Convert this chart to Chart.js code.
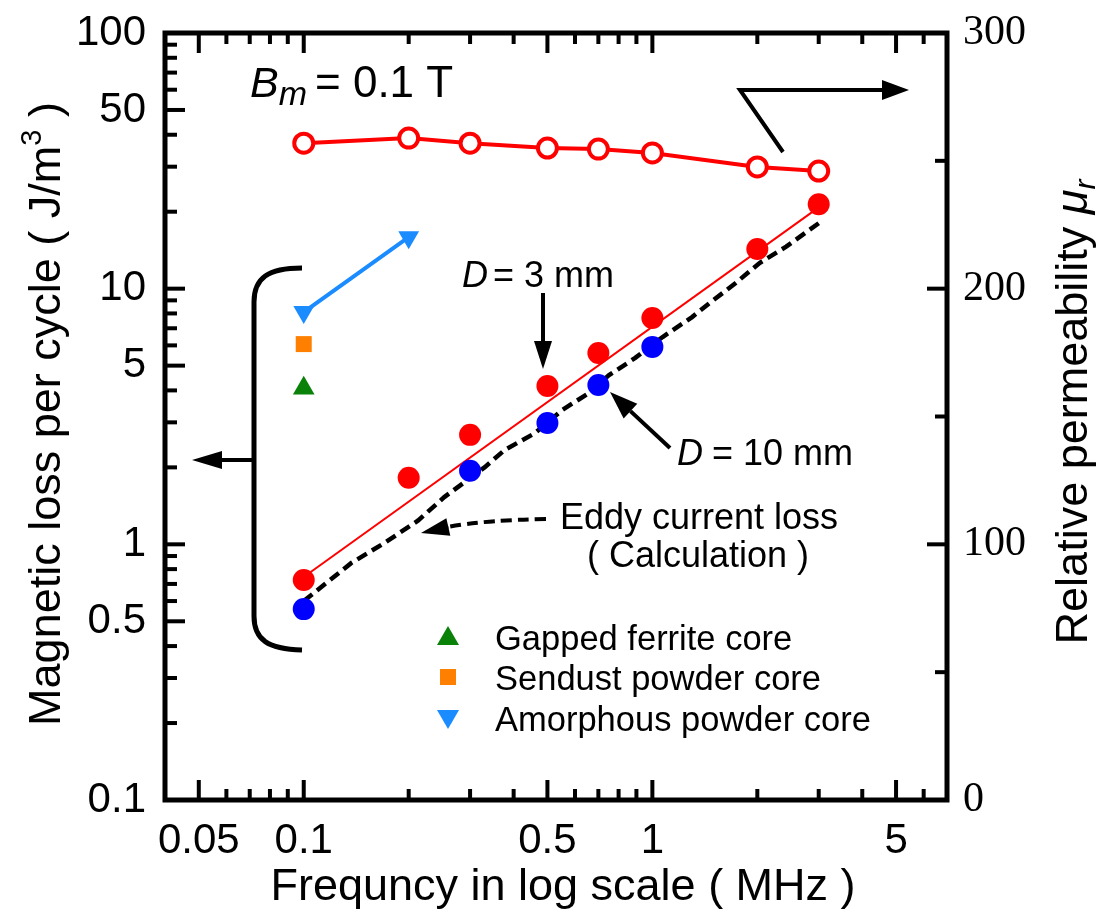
<!DOCTYPE html>
<html>
<head>
<meta charset="utf-8">
<script src="https://cdn.jsdelivr.net/npm/chart.js@4.4.1/dist/chart.umd.min.js"></script>
<style>
  body { margin: 0; background: #fff; }
  canvas { display: block; }
</style>
</head>
<body>
<canvas id="lossChart" width="1098" height="912"></canvas>
<script>
// frequency in MHz
const freqD3 = [0.1, 0.2, 0.3, 0.5, 0.7, 1, 2, 3];
const lossD3 = [0.725, 1.82, 2.68, 4.16, 5.6, 7.68, 14.3, 21.4];
const freqD10 = [0.1, 0.3, 0.5, 0.7, 1];
const lossD10 = [0.558, 1.94, 2.98, 4.2, 5.92];
const permFreq = [0.1, 0.2, 0.3, 0.5, 0.7, 1, 2, 3];
const permMu = [256.9, 258.9, 256.9, 255.0, 254.6, 253.1, 247.6, 246.0];
const fitFreq = [0.1, 3];
const fitLoss = [0.745, 20.8];
const eddyFreq = [0.1, 0.137, 0.17, 0.213, 0.253, 0.33, 0.377, 0.46, 0.551, 0.658, 0.751, 0.893, 1.07, 1.3, 1.46, 1.73, 2.03, 2.42, 3.03];
const eddyLoss = [0.6, 0.846, 1.01, 1.24, 1.53, 2.0, 2.34, 2.72, 3.35, 3.91, 4.59, 5.36, 6.47, 7.74, 8.79, 10.5, 12.6, 14.6, 18.2];
const amorFreq = [0.1, 0.2];
const amorLoss = [8.1, 15.9];
const sendFreq = [0.1];
const sendLoss = [6.07];
const gapFreq = [0.1];
const gapLoss = [4.08];

const xTickLabels = [0.05, 0.1, 0.5, 1, 5];
const yTickLabels = [0.1, 0.5, 1, 5, 10, 50, 100];
const xMinorTicks = [0.06, 0.07, 0.08, 0.09, 0.2, 0.3, 0.4, 0.6, 0.7, 0.8, 0.9, 2, 3, 4, 6];
const yMajorTicks = [0.5, 1, 5, 10, 50];
const yMinorTicks = [0.2, 0.3, 0.4, 0.6, 0.7, 0.8, 0.9, 2, 3, 4, 6, 7, 8, 9, 20, 30, 40, 60, 70, 80, 90];
const y2MajorTicks = [100, 200];
const y2MinorTicks = [50, 150, 250];

const legendItems = ['Gapped ferrite core', 'Sendust powder core', 'Amorphous powder core'];

const pts = (xs, ys) => xs.map((x, i) => ({ x: x, y: ys[i] }));

const SANS = "'Liberation Sans', Arial, sans-serif";
const SERIF = "'Liberation Serif', 'Times New Roman', serif";

function arrow(ctx, x1, y1, x2, y2, len, half) {
  const ang = Math.atan2(y2 - y1, x2 - x1);
  const bx = x2 - Math.cos(ang) * len, by = y2 - Math.sin(ang) * len;
  ctx.beginPath();
  ctx.moveTo(x1, y1);
  ctx.lineTo(bx, by);
  ctx.stroke();
  ctx.beginPath();
  ctx.moveTo(x2, y2);
  ctx.lineTo(bx - Math.sin(ang) * half, by + Math.cos(ang) * half);
  ctx.lineTo(bx + Math.sin(ang) * half, by - Math.cos(ang) * half);
  ctx.closePath();
  ctx.fill();
}

// draws pieces of text one after another: [text, font, dy]
function runs(ctx, x, y, parts) {
  let cx = x;
  parts.forEach(p => {
    ctx.font = p[1];
    ctx.fillText(p[0], cx, y + (p[2] || 0));
    cx += ctx.measureText(p[0]).width;
  });
}
function runsWidth(ctx, parts) {
  let w = 0;
  parts.forEach(p => { ctx.font = p[1]; w += ctx.measureText(p[0]).width; });
  return w;
}

const overlay = {
  id: 'overlay',
  afterDatasetsDraw(chart) {
    const { ctx, chartArea: a, scales } = chart;
    const sx = scales.x, sy = scales.y, sy2 = scales.y2;
    ctx.save();
    ctx.strokeStyle = '#000';
    ctx.fillStyle = '#000';
    ctx.lineWidth = 4;
    const line = (x1, y1, x2, y2) => { ctx.beginPath(); ctx.moveTo(x1, y1); ctx.lineTo(x2, y2); ctx.stroke(); };

    // inward ticks
    xTickLabels.forEach(v => { const p = sx.getPixelForValue(v); line(p, a.bottom, p, a.bottom - 20); line(p, a.top, p, a.top + 20); });
    xMinorTicks.forEach(v => { const p = sx.getPixelForValue(v); line(p, a.bottom, p, a.bottom - 11); line(p, a.top, p, a.top + 11); });
    yMajorTicks.forEach(v => { const p = sy.getPixelForValue(v); line(a.left, p, a.left + 20, p); });
    yMinorTicks.forEach(v => { const p = sy.getPixelForValue(v); line(a.left, p, a.left + 12, p); });
    y2MajorTicks.forEach(v => { const p = sy2.getPixelForValue(v); line(a.right, p, a.right - 20, p); });
    y2MinorTicks.forEach(v => { const p = sy2.getPixelForValue(v); line(a.right, p, a.right - 12, p); });

    ctx.lineWidth = 5;
    ctx.strokeRect(a.left, a.top, a.right - a.left, a.bottom - a.top);

    // bracket and arrows
    ctx.lineWidth = 5;
    ctx.beginPath();
    ctx.moveTo(302, 268);
    ctx.bezierCurveTo(268, 268, 254, 278, 254, 302);
    ctx.lineTo(254, 616);
    ctx.bezierCurveTo(254, 640, 268, 649, 302, 650);
    ctx.stroke();

    ctx.lineWidth = 4;
    arrow(ctx, 252, 460, 192, 460, 30, 9);
    arrow(ctx, 543, 293, 543, 369, 28, 9);
    arrow(ctx, 670, 448, 610, 392, 28, 10);
    ctx.beginPath();
    ctx.moveTo(783, 152);
    ctx.lineTo(740, 90);
    ctx.lineTo(884, 90);
    ctx.stroke();
    arrow(ctx, 880, 90, 909, 90, 27, 10);

    // dashed pointer to the calculation curve
    ctx.setLineDash([11, 6]);
    ctx.beginPath();
    ctx.moveTo(546, 519);
    ctx.quadraticCurveTo(485, 520, 448, 527);
    ctx.stroke();
    ctx.setLineDash([]);
    arrow(ctx, 448, 527, 421, 533, 28, 9);

    // annotation text
    ctx.textBaseline = 'alphabetic';
    ctx.textAlign = 'left';
    runs(ctx, 250, 97, [['B', 'italic 43px ' + SANS], ['m', 'italic 34px ' + SANS, 8]]);
    ctx.font = '44px ' + SANS;
    ctx.fillText('= 0.1 T', 315, 97);

    ctx.font = 'italic 36px ' + SANS;
    ctx.fillText('D', 462, 287);
    ctx.font = '36px ' + SANS;
    ctx.fillText('= 3 mm', 462 + 31, 287);
    ctx.font = 'italic 36px ' + SANS;
    ctx.fillText('D', 677, 465);
    ctx.font = '36px ' + SANS;
    ctx.fillText('= 10 mm', 677 + 35, 465);

    ctx.fillText('Eddy current loss', 560, 529);
    ctx.fillText('( Calculation )', 587, 567);

    // legend
    const lx = 448, ly = [637, 677, 718];
    ctx.fillStyle = '#0a820a';
    ctx.beginPath(); ctx.moveTo(lx, ly[0] - 11); ctx.lineTo(lx + 11, ly[0] + 8); ctx.lineTo(lx - 11, ly[0] + 8); ctx.closePath(); ctx.fill();
    ctx.fillStyle = '#ff8000';
    ctx.fillRect(lx - 8, ly[1] - 8, 16, 16);
    ctx.fillStyle = '#1a8cff';
    ctx.beginPath(); ctx.moveTo(lx, ly[2] + 11); ctx.lineTo(lx + 11, ly[2] - 8); ctx.lineTo(lx - 11, ly[2] - 8); ctx.closePath(); ctx.fill();
    ctx.fillStyle = '#000';
    ctx.font = '34.5px ' + SANS;
    legendItems.forEach((t, i) => ctx.fillText(t, 495, ly[i] + 13));

    // axis titles
    ctx.font = '45px ' + SANS;
    ctx.textAlign = 'center';
    ctx.fillText('Frequncy in log scale ( MHz )', 563, 900);
    ctx.textAlign = 'left';

    const leftParts = [['Magnetic loss per cycle ( J/m', '45px ' + SANS], ['3', '29px ' + SANS, -19], [' )', '45px ' + SANS]];
    ctx.save();
    ctx.translate(60, 414);
    ctx.rotate(-Math.PI / 2);
    runs(ctx, -runsWidth(ctx, leftParts) / 2, 0, leftParts);
    ctx.restore();

    const rightParts = [['Relative permeability ', '45px ' + SANS], ['\u03bc', 'italic 45px ' + SANS], ['r', 'italic 30px ' + SANS, 8]];
    ctx.save();
    ctx.translate(1087, 412);
    ctx.rotate(-Math.PI / 2);
    runs(ctx, -runsWidth(ctx, rightParts) / 2, 0, rightParts);
    ctx.restore();

    ctx.restore();
  }
};

const noPadV = s => { s.paddingTop = 0; s.paddingBottom = 0; };
const noPadH = s => { s.paddingLeft = 0; s.paddingRight = 0; };

new Chart(document.getElementById('lossChart'), {
  type: 'scatter',
  data: {
    datasets: [
      { label: 'D = 3 mm', data: pts(freqD3, lossD3), yAxisID: 'y', pointRadius: 11, pointBackgroundColor: '#ff0000', pointBorderWidth: 0, showLine: false },
      { label: 'D = 10 mm', data: pts(freqD10, lossD10), yAxisID: 'y', pointRadius: 11, pointBackgroundColor: '#0000ff', pointBorderWidth: 0, showLine: false },
      { label: 'Permeability', data: pts(permFreq, permMu), yAxisID: 'y2', showLine: true, borderColor: '#ff0000', borderWidth: 4,
        pointRadius: 9.5, pointBorderWidth: 4, pointBorderColor: '#ff0000', pointBackgroundColor: '#ffffff' },
      { label: 'Amorphous powder core', data: pts(amorFreq, amorLoss), yAxisID: 'y', showLine: true, borderColor: '#1a8cff', borderWidth: 4,
        pointStyle: 'triangle', rotation: 180, pointRadius: 12, pointBorderWidth: 0, pointBackgroundColor: '#1a8cff' },
      { label: 'Sendust powder core', data: pts(sendFreq, sendLoss), yAxisID: 'y', pointStyle: 'rect', pointRadius: 11.3, pointBorderWidth: 0, pointBackgroundColor: '#ff8000' },
      { label: 'Gapped ferrite core', data: pts(gapFreq, gapLoss), yAxisID: 'y', pointStyle: 'triangle', pointRadius: 12.5, pointBorderWidth: 0, pointBackgroundColor: '#0a820a' },
      { label: 'Fit', data: pts(fitFreq, fitLoss), yAxisID: 'y', showLine: true, borderColor: '#ff0000', borderWidth: 2, pointRadius: 0 },
      { label: 'Eddy current loss', data: pts(eddyFreq, eddyLoss), yAxisID: 'y', showLine: true, borderColor: '#000', borderWidth: 4.5,
        borderDash: [11, 6], pointRadius: 0 }
    ]
  },
  options: {
    responsive: false,
    animation: false,
    layout: { padding: { top: 33, left: 0, right: 0, bottom: 0 } },
    plugins: { legend: { display: false }, tooltip: { enabled: false } },
    scales: {
      x: {
        type: 'logarithmic', min: 0.04, max: 7, position: 'bottom',
        grid: { display: false, drawTicks: false }, border: { display: false },
        afterBuildTicks: s => { s.ticks = xTickLabels.map(v => ({ value: v })); },
        afterFit: s => { s.height = 112; noPadH(s); },
        ticks: { callback: v => String(v), color: '#000', font: { family: SANS, size: 42 }, padding: 16, maxRotation: 0, autoSkip: false }
      },
      y: {
        type: 'logarithmic', min: 0.1, max: 100, position: 'left',
        grid: { display: false, drawTicks: false }, border: { display: false },
        afterBuildTicks: s => { s.ticks = yTickLabels.map(v => ({ value: v })); },
        afterFit: s => { s.width = 165; noPadV(s); },
        ticks: { callback: v => String(v), color: '#000', font: { family: SANS, size: 42 }, padding: 19, autoSkip: false }
      },
      y2: {
        type: 'linear', min: 0, max: 300, position: 'right',
        grid: { display: false, drawTicks: false }, border: { display: false },
        afterFit: s => { s.width = 151; noPadV(s); },
        ticks: { stepSize: 100, color: '#000', font: { family: SERIF, size: 42 }, padding: 16 }
      }
    }
  },
  plugins: [overlay]
});
</script>
</body>
</html>
